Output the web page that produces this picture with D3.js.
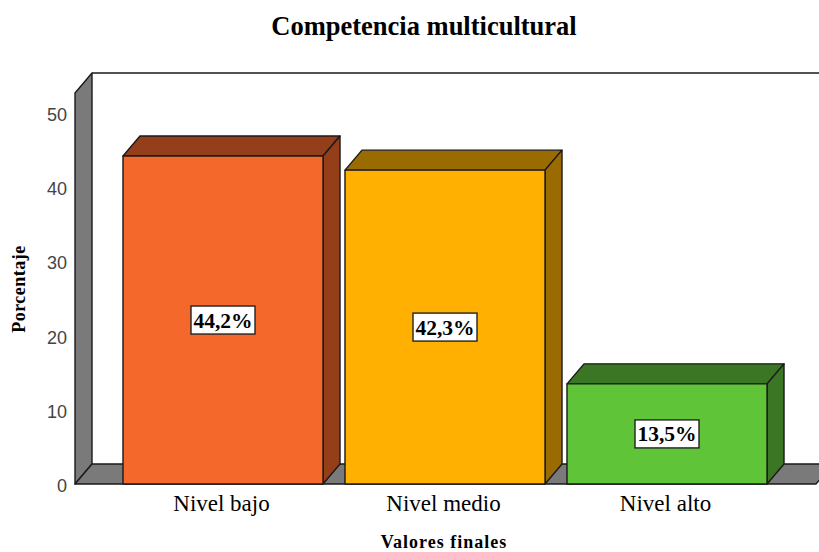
<!DOCTYPE html>
<meta charset="utf-8">
<style>
    html, body { margin: 0; background: #fff; }
    svg { display: block; }
    text { font-family: "Liberation Serif", serif; fill: #000; }
    .ytick text { font-family: "Liberation Sans", sans-serif; font-size: 18px; fill: #444; }
</style>
<svg width="819" height="552"></svg>
<script src="https://d3js.org/d3.v7.min.js"></script>
<script>
    var categories = ["Nivel bajo", "Nivel medio", "Nivel alto"];
    var values = [44.2, 42.3, 13.5];
    var valueLabels = ["44,2%", "42,3%", "13,5%"];
    var frontColors = ["#f4682c", "#ffb000", "#5fc437"];
    var darkColors = ["#943f1a", "#9a6b00", "#3a7624"];
    var yTicks = [0, 10, 20, 30, 40, 50];

    var svg = d3.select("svg");
    var dx = 17, dy = 20;   // depth of the 3d box
    var wallGrey = "#7a7a7a";

    var y = d3.scaleLinear().domain([0, 52.7]).range([484, 93]);
    var x = d3.scaleBand().domain(categories).range([112, 778]).paddingInner(0.099).paddingOuter(0.0495);

    function poly(pts, fill) {
        svg.append("polygon")
            .attr("points", pts.map(function(p) { return p.join(","); }).join(" "))
            .attr("fill", fill)
            .attr("stroke", "#1a1a1a")
            .attr("stroke-width", 1.4)
            .attr("stroke-linejoin", "round");
    }

    // walls
    var left = 75, right = 816;
    var y0 = y(0), yTop = y.range()[1];
    poly([[left, y0], [left, yTop], [left + dx, yTop - dy], [left + dx, y0 - dy]], wallGrey);
    poly([[left, y0], [left + dx, y0 - dy], [right + dx, y0 - dy], [right, y0]], wallGrey);
    svg.append("line")
        .attr("x1", left + dx).attr("y1", yTop - dy)
        .attr("x2", 819).attr("y2", yTop - dy)
        .attr("stroke", "#1a1a1a").attr("stroke-width", 1.6);

    // bars
    categories.forEach(function(c, i) {
        var x0 = x(c), x1 = x0 + x.bandwidth(), top = y(values[i]);
        poly([[x0, top], [x0 + dx, top - dy], [x1 + dx, top - dy], [x1, top]], darkColors[i]);
        poly([[x1, top], [x1 + dx, top - dy], [x1 + dx, y0 - dy], [x1, y0]], darkColors[i]);
        poly([[x0, top], [x1, top], [x1, y0], [x0, y0]], frontColors[i]);
    });

    // value labels
    categories.forEach(function(c, i) {
        var cx = x(c) + x.bandwidth() / 2, cy = y(values[i] / 2);
        svg.append("rect")
            .attr("x", cx - 32).attr("y", cy - 14)
            .attr("width", 64).attr("height", 28)
            .attr("fill", "#fff").attr("stroke", "#222").attr("stroke-width", 1.4);
        svg.append("text")
            .attr("x", cx).attr("y", cy + 7.5)
            .attr("text-anchor", "middle")
            .attr("font-size", 21.5).attr("font-weight", "bold")
            .text(valueLabels[i]);
    });

    // y ticks
    var gy = svg.append("g").attr("class", "ytick");
    gy.selectAll("text").data(yTicks).enter().append("text")
        .attr("x", 67)
        .attr("y", function(d) { return y(d) + 8; })
        .attr("text-anchor", "end")
        .text(function(d) { return d; });

    // category labels
    svg.selectAll(".cat").data(categories).enter().append("text")
        .attr("class", "cat")
        .attr("x", function(d) { return x(d) + x.bandwidth() / 2 - 1.5; })
        .attr("y", 511)
        .attr("text-anchor", "middle")
        .attr("font-size", 23)
        .text(function(d) { return d; });

    svg.append("text").attr("x", 424).attr("y", 35)
        .attr("text-anchor", "middle")
        .attr("font-size", 26.5).attr("font-weight", "bold")
        .text("Competencia multicultural");

    svg.append("text").attr("x", 444).attr("y", 548)
        .attr("text-anchor", "middle")
        .attr("font-size", 18).attr("font-weight", "bold")
        .attr("letter-spacing", 1)
        .text("Valores finales");

    svg.append("text")
        .attr("transform", "translate(25,289) rotate(-90)")
        .attr("text-anchor", "middle")
        .attr("font-size", 18).attr("font-weight", "bold")
        .attr("letter-spacing", 0.5)
        .text("Porcentaje");
</script>
